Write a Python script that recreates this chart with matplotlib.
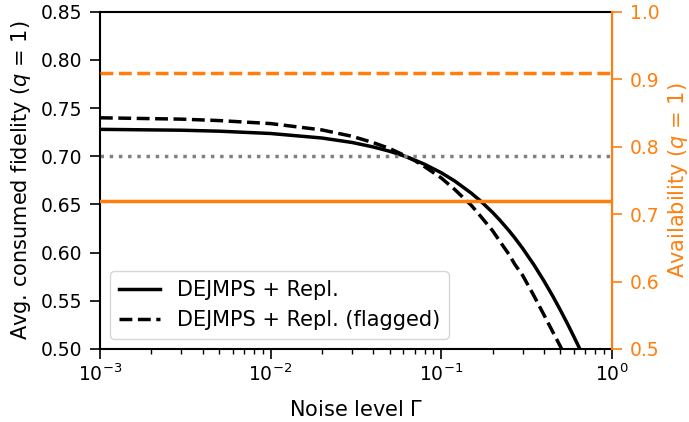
import matplotlib
matplotlib.use('Agg')
import matplotlib.pyplot as plt

# --- data ---
gamma = [0.001, 0.003, 0.005, 0.01, 0.02, 0.03, 0.04, 0.05, 0.06, 0.07,
         0.08, 0.1, 0.12, 0.15, 0.17, 0.2, 0.22, 0.25, 0.27, 0.3,
         0.35, 0.4, 0.45, 0.5, 0.55, 0.6, 0.65, 0.7]
fid_repl = [0.7280, 0.7271, 0.7261, 0.7237, 0.7190, 0.7144, 0.7097, 0.7052, 0.7006, 0.6961,
            0.6917, 0.6830, 0.6744, 0.6618, 0.6537, 0.6418, 0.6340, 0.6227, 0.6153, 0.6045,
            0.5872, 0.5707, 0.5551, 0.5402, 0.5261, 0.5126, 0.4998, 0.4876]
fid_flagged = [0.7400, 0.7386, 0.7371, 0.7340, 0.7274, 0.7208, 0.7142, 0.7080, 0.7015, 0.6955,
               0.6892, 0.6776, 0.6656, 0.6492, 0.6379, 0.6228, 0.6121, 0.5980, 0.5879, 0.5765,
               0.5550, 0.5355, 0.5180, 0.5025, 0.4875, 0.4730, 0.4600, 0.4470]
fid_reference = 0.70
avail_repl = 0.72
avail_flagged = 0.91

ORANGE = '#ff7f0e'
LABEL_SIZE = 15
TICK_SIZE = 13.5

fig, ax = plt.subplots(figsize=(6.89, 4.22), dpi=100)
fig.subplots_adjust(left=0.145, right=0.888, bottom=0.173, top=0.972)

ax.plot(gamma, fid_repl, color='black', lw=2.5, label='DEJMPS + Repl.')
ax.plot(gamma, fid_flagged, color='black', lw=2.5, ls='--',
        label='DEJMPS + Repl. (flagged)')
ax.axhline(fid_reference, color='gray', lw=2.5, ls=':')

ax.set_xscale('log')
ax.set_xlim(1e-3, 1)
ax.set_ylim(0.5, 0.85)
ax.set_yticks([0.50, 0.55, 0.60, 0.65, 0.70, 0.75, 0.80, 0.85])
ax.set_yticklabels(['0.50', '0.55', '0.60', '0.65', '0.70', '0.75', '0.80', '0.85'])
ax.tick_params(axis='both', which='major', labelsize=TICK_SIZE, length=7, width=1.2)
ax.tick_params(axis='both', which='minor', length=3.5, width=1.0)
ax.tick_params(axis='y', pad=6)
for side in ['left', 'bottom', 'top']:
    ax.spines[side].set_linewidth(1.5)
ax.set_xlabel(r'Noise level $\Gamma$', fontsize=LABEL_SIZE, labelpad=11)
ax.set_ylabel(r'Avg. consumed fidelity ($q$ = 1)', fontsize=LABEL_SIZE, labelpad=5)
ax.legend(loc='lower left', fontsize=15, handlelength=2.0)

# availability on the right axis
ax2 = ax.twinx()
ax2.axhline(avail_repl, color=ORANGE, lw=2.5)
ax2.axhline(avail_flagged, color=ORANGE, lw=2.5, ls='--')
ax2.set_ylim(0.5, 1.0)
ax2.set_yticks([0.5, 0.6, 0.7, 0.8, 0.9, 1.0])
ax2.set_ylabel(r'Availability ($q$ = 1)', color=ORANGE, fontsize=LABEL_SIZE, labelpad=5)
ax2.tick_params(axis='y', colors=ORANGE, labelsize=TICK_SIZE, length=7, width=1.2, pad=6)
ax2.spines['right'].set_color(ORANGE)
ax2.spines['right'].set_linewidth(1.5)
for side in ['left', 'bottom', 'top']:
    ax2.spines[side].set_visible(False)

fig.savefig('out.png', dpi=100)
